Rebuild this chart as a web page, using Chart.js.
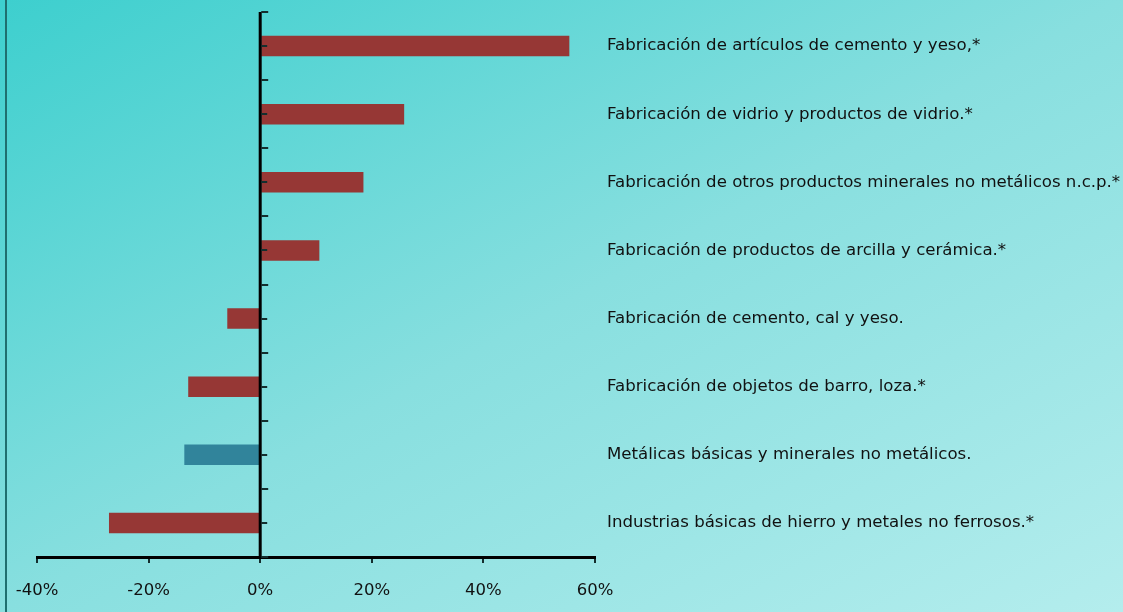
<!DOCTYPE html>
<html>
<head>
<meta charset="utf-8">
<script src="https://cdn.jsdelivr.net/npm/chart.js@4.4.1/dist/chart.umd.min.js"></script>
<style>
    html, body { margin: 0; padding: 0; }
    body {
        width: 1123px; height: 612px; overflow: hidden; position: relative;
        background: linear-gradient(to bottom right, #3dcfce 0%, #88dfdf 50%, #b4eded 100%);
    }
    #edge { position: absolute; left: 5px; top: 0; width: 2px; height: 612px; background: #1f6f6f; }
    #box { position: absolute; left: 0; top: 0; width: 1123px; height: 612px; }
</style>
</head>
<body>
<div id="edge"></div>
<div id="box"><canvas id="bars"></canvas></div>
<script>
"use strict";

const categories = [
    "Fabricación de artículos de cemento y yeso,*",
    "Fabricación de vidrio y productos de vidrio.*",
    "Fabricación de otros productos minerales no metálicos n.c.p.*",
    "Fabricación de productos de arcilla y cerámica.*",
    "Fabricación de cemento, cal y yeso.",
    "Fabricación de objetos de barro, loza.*",
    "Metálicas básicas y minerales no metálicos.",
    "Industrias básicas de hierro y metales no ferrosos.*"
];
const changes = [55.4, 25.8, 18.5, 10.6, -5.9, -12.9, -13.6, -27.1];
const xTicks = [-40, -20, 0, 20, 40, 60];
const totalLabel = "Metálicas básicas y minerales no metálicos.";

const RED = "#963735";
const BLUE = "#31849b";

// vertical axis at 0 with ticks on its right side
const zeroAxis = {
    id: "zeroAxis",
    afterDatasetsDraw(chart) {
        const {ctx, chartArea, scales: {x, y}} = chart;
        const x0 = x.getPixelForValue(0);
        ctx.save();
        ctx.strokeStyle = "#000";
        ctx.lineWidth = 3;
        ctx.beginPath();
        ctx.moveTo(x0, chartArea.top);
        ctx.lineTo(x0, chartArea.bottom);
        ctx.stroke();
        ctx.lineWidth = 2;
        ctx.strokeStyle = "#142e2e";
        for (let i = 0; i <= categories.length * 2; i++) {
            const yy = Math.round(y.getPixelForValue(i / 2 - 0.5));
            const len = i % 2 ? 6 : 7;
            ctx.beginPath();
            ctx.moveTo(x0 + 1, yy);
            ctx.lineTo(x0 + 1 + len, yy);
            ctx.stroke();
        }
        ctx.restore();
    }
};

const ctx = document.querySelector("#bars").getContext("2d");
const configuration = {
    type: "bar",
    data: {
        labels: categories,
        datasets: [{
            data: changes,
            backgroundColor: categories.map(c => c === totalLabel ? BLUE : RED),
            barPercentage: 0.3,
            categoryPercentage: 1
        }]
    },
    options: {
        indexAxis: "y",
        responsive: false,
        animation: false,
        layout: {
            padding: {top: 12, left: 37, right: 0, bottom: 0}
        },
        plugins: {
            legend: {display: false},
            tooltip: {enabled: false}
        },
        scales: {
            x: {
                min: -40,
                max: 60,
                afterBuildTicks: scale => {
                    scale.ticks = xTicks.map(v => ({value: v}));
                },
                afterFit: scale => {
                    scale.height = 55;
                    scale.paddingLeft = 0;
                    scale.paddingRight = 0;
                },
                grid: {
                    drawOnChartArea: false,
                    drawTicks: true,
                    tickLength: 6,
                    color: "#142e2e",
                    lineWidth: 2
                },
                border: {display: true, color: "#000", width: 3},
                ticks: {
                    padding: 18,
                    color: "#111",
                    font: {family: "'DejaVu Sans'", size: 16.5},
                    callback: v => (v < 0 ? "-" + Math.abs(v) : v) + "%"
                }
            },
            y: {
                position: "right",
                afterFit: scale => {
                    scale.width = 528;
                    scale.paddingTop = 0;
                    scale.paddingBottom = 0;
                },
                grid: {display: false, drawTicks: false},
                border: {display: false},
                ticks: {
                    padding: 12,
                    color: "#111",
                    font: {family: "'DejaVu Sans'", size: 16.6}
                }
            }
        }
    },
    plugins: [zeroAxis]
};
const canvas = document.querySelector("#bars");
canvas.width = 1123;
canvas.height = 612;
new Chart(ctx, configuration); //NOSONAR
</script>
</body>
</html>
